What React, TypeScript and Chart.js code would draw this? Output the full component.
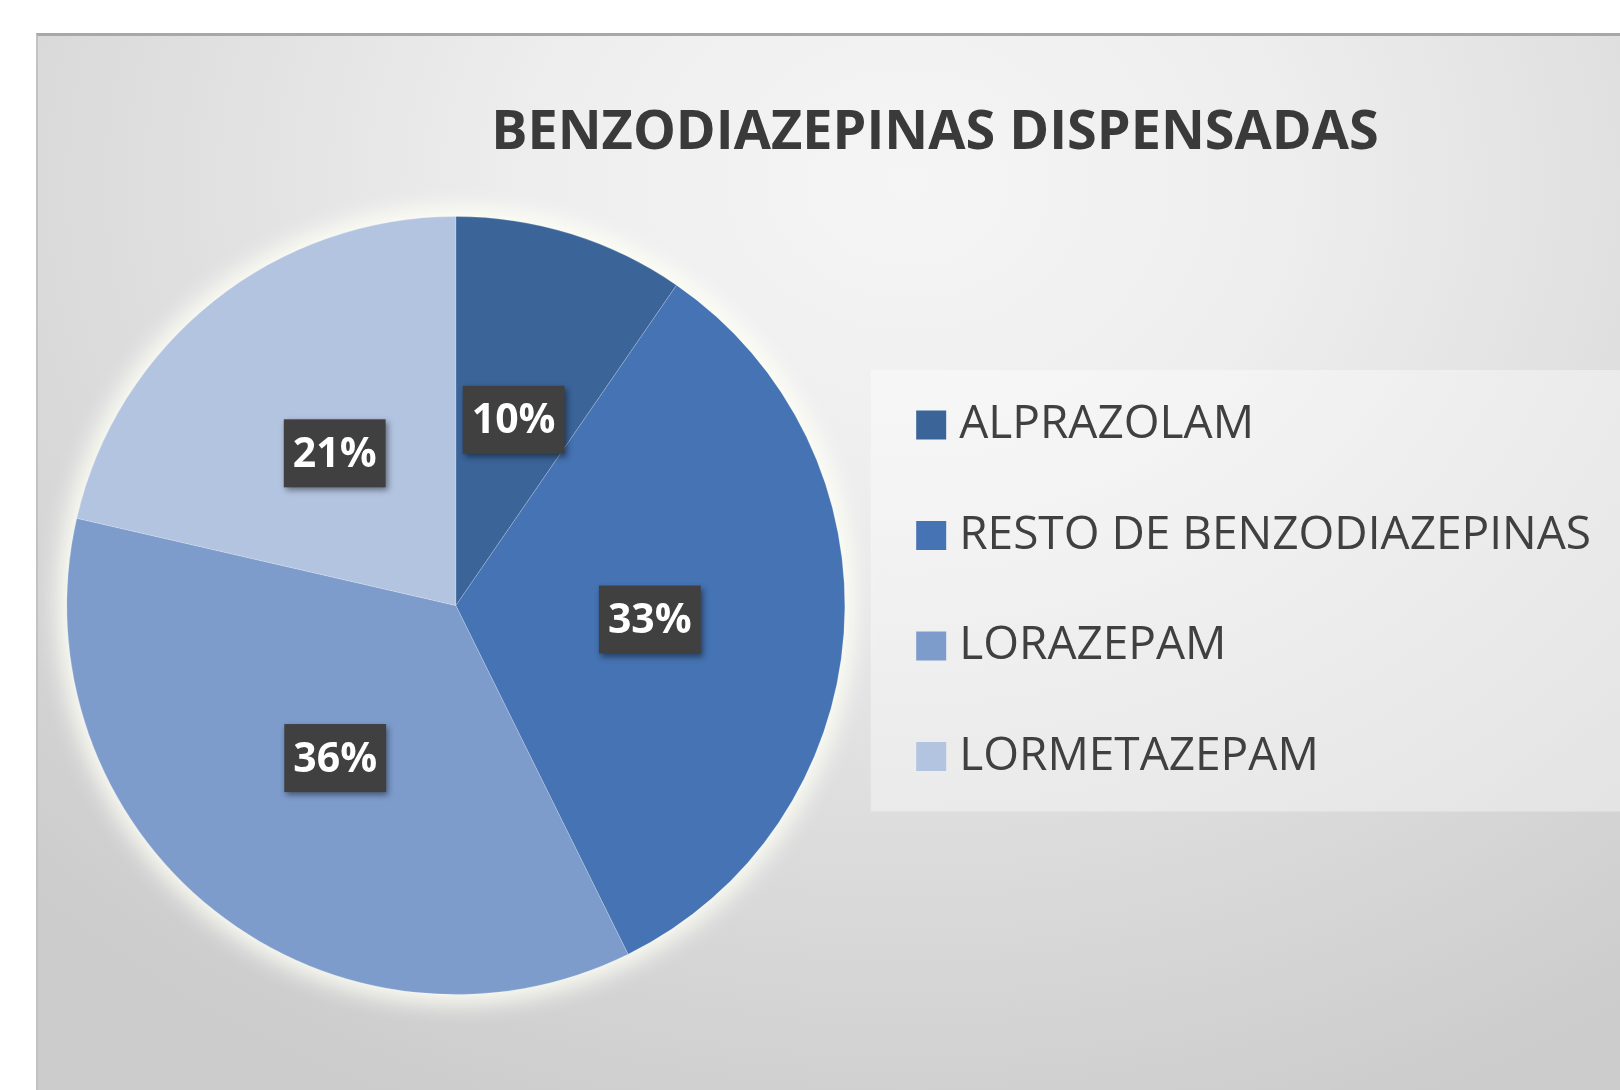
import React, { useEffect, useRef } from 'react';
import { Chart, registerables } from 'chart.js';

Chart.register(...registerables);

const chartTitle = 'BENZODIAZEPINAS DISPENSADAS';
const categories = ['ALPRAZOLAM', 'RESTO DE BENZODIAZEPINAS', 'LORAZEPAM', 'LORMETAZEPAM'];
const values = [9.6, 33.1, 35.9, 21.4];
const sliceColors = ['#3b6499', '#4573b3', '#7d9ccc', '#b3c4e1'];

const W = 1620;
const H = 1090;
const FONT = "'Open Sans', 'Noto Sans', sans-serif";

export default function App() {
  const ref = useRef<HTMLCanvasElement>(null);

  useEffect(() => {
    const canvas = ref.current;
    if (!canvas) return;

    const backdrop = {
      id: 'backdrop',
      beforeDraw(chart: any) {
        const { ctx } = chart;
        const lg = chart.legend;
        if (lg && lg.legendHitBoxes && lg.legendHitBoxes.length) {
          const hb = lg.legendHitBoxes;
          const top = hb[0].top - 32;
          const bottom = hb[hb.length - 1].top + hb[hb.length - 1].height + 32;
          ctx.save();
          ctx.fillStyle = 'rgba(255,255,255,0.38)';
          ctx.fillRect(lg.left + 9, top, W - (lg.left + 9), bottom - top);
          ctx.restore();
        }
        ctx.save();
        ctx.font = `bold 54px ${FONT}`;
        ctx.fillStyle = '#3a3a3a';
        ctx.textAlign = 'center';
        ctx.textBaseline = 'middle';
        ctx.fillText(chartTitle, 935, 134);
        ctx.restore();
      },
      beforeDatasetsDraw(chart: any) {
        const arc = chart.getDatasetMeta(0).data[0];
        if (!arc) return;
        const { x, y, outerRadius } = arc.getProps(['x', 'y', 'outerRadius'], true);
        const { ctx } = chart;
        ctx.save();
        ctx.shadowColor = 'rgba(255,255,246,1)';
        ctx.shadowBlur = 30;
        ctx.fillStyle = '#fbfbf6';
        ctx.beginPath();
        ctx.arc(x, y, outerRadius, 0, Math.PI * 2);
        ctx.fill();
        ctx.fill();
        ctx.restore();
      },
      afterDatasetsDraw(chart: any) {
        const { ctx } = chart;
        const meta = chart.getDatasetMeta(0);
        const data = chart.data.datasets[0].data as number[];
        const total = data.reduce((a, b) => a + b, 0);
        meta.data.forEach((arc: any, i: number) => {
          const p = arc.getCenterPoint(true);
          const text = Math.round((data[i] / total) * 100) + '%';
          ctx.save();
          ctx.font = `bold 41px ${FONT}`;
          const tw = ctx.measureText(text).width;
          const bw = tw + 18;
          const bh = 68;
          ctx.shadowColor = 'rgba(0,0,0,0.45)';
          ctx.shadowBlur = 6;
          ctx.shadowOffsetX = 2;
          ctx.shadowOffsetY = 3;
          ctx.fillStyle = '#404040';
          ctx.fillRect(p.x - bw / 2, p.y - bh / 2, bw, bh);
          ctx.shadowColor = 'transparent';
          ctx.fillStyle = '#ffffff';
          ctx.textAlign = 'center';
          ctx.textBaseline = 'middle';
          ctx.fillText(text, p.x, p.y + 2);
          ctx.restore();
        });
      },
    };

    const chart = new Chart(canvas, {
      type: 'pie',
      data: {
        labels: categories,
        datasets: [
          {
            data: values,
            backgroundColor: sliceColors,
            borderColor: 'rgba(255,255,255,0.18)',
            borderWidth: 1,
          },
        ],
      },
      options: {
        responsive: false,
        animation: false,
        devicePixelRatio: 1,
        events: [],
        layout: { padding: { top: 216, bottom: 95, left: 50, right: 19 } },
        plugins: {
          title: { display: false },
          tooltip: { enabled: false },
          legend: {
            position: 'right',
            align: 'start',
            title: { display: true, text: '', padding: 0, font: { size: 10, lineHeight: 12.15 } },
            labels: {
              boxWidth: 10,
              boxHeight: 9,
              padding: 64.5,
              color: '#404040',
              font: { family: FONT, size: 46 },
              generateLabels(chart: any) {
                const base = Chart.overrides.pie.plugins.legend.labels.generateLabels(chart);
                return base.map((item: any) => ({
                  ...item,
                  strokeStyle: item.fillStyle,
                  lineWidth: 20,
                  lineJoin: 'miter',
                  borderRadius: 0,
                }));
              },
            },
          },
        },
      },
      plugins: [backdrop],
    });

    return () => chart.destroy();
  }, []);

  return (
    <div style={{ position: 'fixed', left: 0, top: 0, width: W, height: H, background: '#ffffff', overflow: 'hidden' }}>
      <div
        style={{
          position: 'absolute',
          left: 36,
          top: 33,
          right: 0,
          bottom: 0,
          borderTop: '3px solid #a8a8a8',
          borderLeft: '2px solid #c2c2c2',
          background:
            'radial-gradient(ellipse 78% 95% at 55% 14%, #f5f5f5 0%, #eeeeee 30%, #dedede 62%, #cccccc 100%)',
        }}
      />
      <canvas ref={ref} width={W} height={H} style={{ position: 'absolute', left: 0, top: 0, width: W, height: H }} />
    </div>
  );
}
